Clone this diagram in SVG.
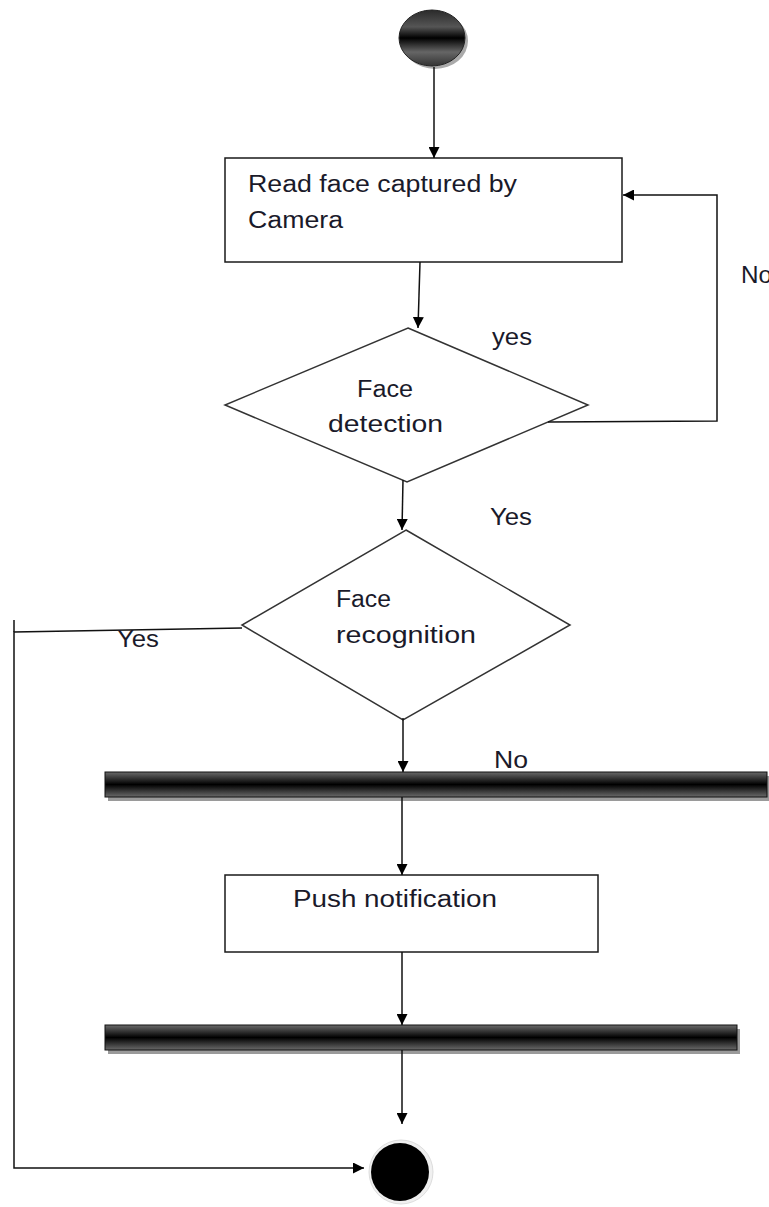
<svg xmlns="http://www.w3.org/2000/svg" width="769" height="1207" viewBox="0 0 769 1207">
<style>
.box{fill:#fff;stroke:#1a1a1a;stroke-width:1.5}
.dia{fill:#fff;stroke:#333;stroke-width:1.5}
.ln{fill:none;stroke:#111;stroke-width:1.5}
.t{font-family:"Liberation Sans",Arial,sans-serif;font-size:23px;fill:#1a1a2a}
.bar{fill:url(#barG);stroke:#111;stroke-width:1}
.sh{fill:#9a9a9a}
</style>
<defs>
<marker id="ah" viewBox="0 0 10 10" refX="10" refY="5" markerWidth="11" markerHeight="11" markerUnits="userSpaceOnUse" orient="auto">
<path d="M0,0 L10,5 L0,10 z" fill="#000"/>
</marker>
<linearGradient id="barG" x1="0" y1="0" x2="0" y2="1">
<stop offset="0" stop-color="#6a6a6a"/>
<stop offset="0.5" stop-color="#000"/>
<stop offset="1" stop-color="#6a6a6a"/>
</linearGradient>
<linearGradient id="startG" x1="0" y1="0" x2="0" y2="1">
<stop offset="0" stop-color="#2a2a2a"/>
<stop offset="0.3" stop-color="#555"/>
<stop offset="0.5" stop-color="#000"/>
<stop offset="0.75" stop-color="#666"/>
<stop offset="1" stop-color="#333"/>
</linearGradient>
</defs>

<g id="start">
<ellipse cx="435" cy="41" rx="33" ry="28" fill="#aaa"/>
<ellipse cx="432" cy="38" rx="33" ry="28" fill="url(#startG)" stroke="#222" stroke-width="1"/>
</g>

<g id="readFace">
<rect class="box" x="225" y="158" width="397" height="104"/>
<text class="t" x="248" y="192" textLength="269" lengthAdjust="spacingAndGlyphs">Read face captured by</text>
<text class="t" x="248" y="228" textLength="95" lengthAdjust="spacingAndGlyphs">Camera</text>
</g>

<g id="faceDetection">
<polygon class="dia" points="408,328 588,405 407,482 225,405"/>
<text class="t" x="357" y="397" textLength="56" lengthAdjust="spacingAndGlyphs">Face</text>
<text class="t" x="328" y="432" textLength="115" lengthAdjust="spacingAndGlyphs">detection</text>
</g>

<g id="faceRecognition">
<polygon class="dia" points="406,530 570,625 403,720 242,625"/>
<text class="t" x="336" y="607" textLength="55" lengthAdjust="spacingAndGlyphs">Face</text>
<text class="t" x="336" y="643" textLength="140" lengthAdjust="spacingAndGlyphs">recognition</text>
</g>

<g id="fork1">
<rect class="sh" x="108" y="776" width="662" height="25"/>
<rect class="bar" x="105" y="772" width="662" height="25"/>
</g>

<g id="pushNotification">
<rect class="box" x="225" y="875" width="373" height="77"/>
<text class="t" x="293" y="907" textLength="204" lengthAdjust="spacingAndGlyphs">Push notification</text>
</g>

<g id="join1">
<rect class="sh" x="108" y="1029" width="632" height="25"/>
<rect class="bar" x="105" y="1025" width="632" height="25"/>
</g>

<g id="end">
<circle cx="401" cy="1172" r="32" fill="#f0f0f0" stroke="#ddd" stroke-width="1"/>
<circle cx="400" cy="1172" r="29" fill="#000"/>
</g>

<g id="connectors">
<line class="ln" x1="434" y1="67" x2="434" y2="158" marker-end="url(#ah)"/>
<line class="ln" x1="420" y1="262" x2="418" y2="328" marker-end="url(#ah)"/>
<polyline class="ln" points="548,422 717,421 717,195 623,195" marker-end="url(#ah)"/>
<line class="ln" x1="403" y1="480" x2="402" y2="530" marker-end="url(#ah)"/>
<polyline class="ln" points="242,628 14,632 14,1168 364,1168" marker-end="url(#ah)"/>
<line class="ln" x1="14" y1="620" x2="14" y2="632"/>
<line class="ln" x1="403" y1="718" x2="403" y2="772" marker-end="url(#ah)"/>
<line class="ln" x1="402" y1="797" x2="402" y2="875" marker-end="url(#ah)"/>
<line class="ln" x1="402" y1="952" x2="402" y2="1025" marker-end="url(#ah)"/>
<line class="ln" x1="402" y1="1050" x2="402" y2="1124" marker-end="url(#ah)"/>
</g>

<g id="labels">
<text class="t" x="492" y="345" textLength="40" lengthAdjust="spacingAndGlyphs">yes</text>
<text class="t" x="741" y="283" textLength="31" lengthAdjust="spacingAndGlyphs">No</text>
<text class="t" x="490" y="525" textLength="42" lengthAdjust="spacingAndGlyphs">Yes</text>
<text class="t" x="117" y="647" textLength="42" lengthAdjust="spacingAndGlyphs">Yes</text>
<text class="t" x="494" y="768" textLength="34" lengthAdjust="spacingAndGlyphs">No</text>
</g>
</svg>
